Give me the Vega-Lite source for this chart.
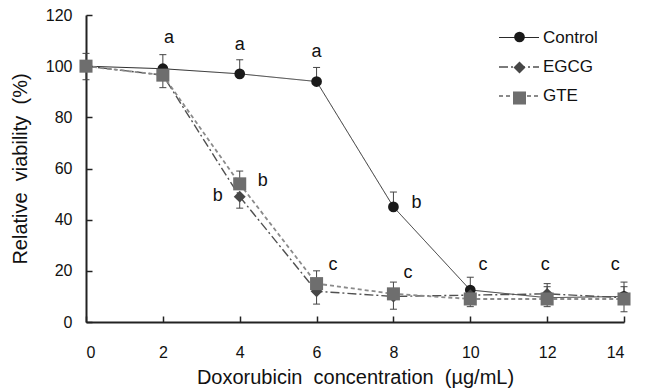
{
  "$schema": "https://vega.github.io/schema/vega-lite/v6.json",
  "width": 538,
  "height": 307,
  "autosize": {"type": "none"},
  "padding": {"left": 86, "top": 15, "right": 26, "bottom": 67},
  "background": "white",
  "config": {
    "view": {"stroke": null},
    "font": "Liberation Sans",
    "axis": {
      "grid": false,
      "domainColor": "#222222",
      "domainWidth": 2,
      "tickColor": "#222222",
      "tickWidth": 1.5,
      "tickSize": -6,
      "labelFont": "Liberation Sans",
      "labelFontSize": 16,
      "labelColor": "#111111",
      "titleFont": "Liberation Sans",
      "titleFontSize": 20,
      "titleFontWeight": "normal",
      "titleColor": "#111111"
    }
  },
  "datasets": {
    "points": [
      {"series": "Control", "x": 0, "y": 100, "lo": 94.7, "hi": 105},
      {"series": "Control", "x": 2, "y": 99, "lo": 99, "hi": 104.5},
      {"series": "Control", "x": 4, "y": 97, "lo": 97, "hi": 102.5},
      {"series": "Control", "x": 6, "y": 94, "lo": 94, "hi": 99.5},
      {"series": "Control", "x": 8, "y": 45, "lo": 45, "hi": 50.8},
      {"series": "Control", "x": 10, "y": 12.5, "lo": 12.5, "hi": 17.5},
      {"series": "Control", "x": 12, "y": 9.5, "lo": 9.5, "hi": 15},
      {"series": "Control", "x": 14, "y": 10, "lo": 10, "hi": 15.6},
      {"series": "EGCG", "x": 0, "y": 100, "lo": 100, "hi": 100},
      {"series": "EGCG", "x": 2, "y": 96.5, "lo": 96.5, "hi": 96.5},
      {"series": "EGCG", "x": 4, "y": 49, "lo": 44.5, "hi": 49},
      {"series": "EGCG", "x": 6, "y": 12, "lo": 7, "hi": 12},
      {"series": "EGCG", "x": 8, "y": 10, "lo": 10, "hi": 10},
      {"series": "EGCG", "x": 10, "y": 10.5, "lo": 10.5, "hi": 10.5},
      {"series": "EGCG", "x": 12, "y": 11, "lo": 11, "hi": 13.8},
      {"series": "EGCG", "x": 14, "y": 9.5, "lo": 9.5, "hi": 13.8},
      {"series": "GTE", "x": 0, "y": 100, "lo": 100, "hi": 100},
      {"series": "GTE", "x": 2, "y": 96.5, "lo": 91.6, "hi": 96.5},
      {"series": "GTE", "x": 4, "y": 54, "lo": 54, "hi": 59},
      {"series": "GTE", "x": 6, "y": 15, "lo": 15, "hi": 20},
      {"series": "GTE", "x": 8, "y": 11, "lo": 5, "hi": 15.6},
      {"series": "GTE", "x": 10, "y": 9, "lo": 6, "hi": 9},
      {"series": "GTE", "x": 12, "y": 9, "lo": 6, "hi": 9},
      {"series": "GTE", "x": 14, "y": 9, "lo": 4, "hi": 9}
    ],
    "letters": [
      {"x": 2.16, "y": 111, "t": "a"},
      {"x": 4.0, "y": 108.4, "t": "a"},
      {"x": 6.0, "y": 105.6, "t": "a"},
      {"x": 3.43, "y": 49.2, "t": "b"},
      {"x": 4.6, "y": 55, "t": "b"},
      {"x": 8.6, "y": 46.4, "t": "b"},
      {"x": 6.43, "y": 22.2, "t": "c"},
      {"x": 8.38, "y": 19.1, "t": "c"},
      {"x": 10.33, "y": 22.2, "t": "c"},
      {"x": 11.95, "y": 22.2, "t": "c"},
      {"x": 13.77, "y": 22.2, "t": "c"}
    ]
  },
  "layer": [
    {
      "data": {"name": "points"},
      "mark": {"type": "line"},
      "encoding": {
        "x": {
          "field": "x", "type": "quantitative",
          "scale": {"domain": [0, 14], "nice": false, "zero": false},
          "axis": {
            "values": [0, 2, 4, 6, 8, 10, 12, 14],
            "labelPadding": 28,
            "title": "Doxorubicin\u00a0 concentration\u00a0 (µg/mL)",
            "titlePadding": 7
          }
        },
        "y": {
          "field": "y", "type": "quantitative",
          "scale": {"domain": [0, 120], "nice": false},
          "axis": {
            "values": [0, 20, 40, 60, 80, 100, 120],
            "labelPadding": 20,
            "title": "Relative\u00a0 viability\u00a0 (%)",
            "titlePadding": 15
          }
        },
        "color": {
          "field": "series", "type": "nominal",
          "scale": {"domain": ["Control", "EGCG", "GTE"], "range": ["#2a2a2a", "#505050", "#8a8a8a"]},
          "legend": {
            "title": null,
            "orient": "none",
            "legendX": 412,
            "legendY": 2,
            "padding": 0,
            "symbolType": "stroke",
            "symbolSize": 1600,
            "symbolStrokeWidth": 1.3,
            "labelOffset": 3,
            "rowPadding": -10.5,
            "labelFont": "Liberation Sans",
            "labelFontSize": 17,
            "labelColor": "#111111"
          }
        },
        "strokeDash": {
          "field": "series", "type": "nominal",
          "scale": {"domain": ["Control", "EGCG", "GTE"], "range": [[1, 0], [9, 3, 2, 3], [4, 3]]},
          "legend": {
            "title": null,
            "orient": "none",
            "legendX": 412,
            "legendY": 2,
            "padding": 0,
            "symbolType": "stroke",
            "symbolSize": 1600,
            "symbolStrokeWidth": 1.3,
            "labelOffset": 3,
            "rowPadding": -10.5,
            "labelFont": "Liberation Sans",
            "labelFontSize": 17,
            "labelColor": "#111111"
          }
        },
        "strokeWidth": {
          "field": "series", "type": "nominal",
          "scale": {"domain": ["Control", "EGCG", "GTE"], "range": [1, 1.8, 1.2]},
          "legend": null
        },
        "order": {"field": "x", "type": "quantitative"}
      }
    },
    {
      "data": {"name": "points"},
      "mark": {"type": "rule", "color": "#444444", "strokeWidth": 1},
      "encoding": {
        "x": {"field": "x", "type": "quantitative"},
        "y": {"field": "lo", "type": "quantitative"},
        "y2": {"field": "hi"}
      }
    },
    {
      "data": {"name": "points"},
      "mark": {"type": "tick", "orient": "horizontal", "size": 7, "thickness": 1, "color": "#444444", "opacity": 1},
      "encoding": {
        "x": {"field": "x", "type": "quantitative"},
        "y": {"field": "hi", "type": "quantitative"}
      }
    },
    {
      "data": {"name": "points"},
      "mark": {"type": "tick", "orient": "horizontal", "size": 7, "thickness": 1, "color": "#444444", "opacity": 1},
      "encoding": {
        "x": {"field": "x", "type": "quantitative"},
        "y": {"field": "lo", "type": "quantitative"}
      }
    },
    {
      "data": {"name": "points"},
      "transform": [{"filter": "datum.x >= 0"}],
      "mark": {"type": "point", "filled": true, "opacity": 1, "strokeWidth": 0},
      "encoding": {
        "x": {"field": "x", "type": "quantitative"},
        "y": {"field": "y", "type": "quantitative"},
        "shape": {
          "field": "series", "type": "nominal",
          "scale": {"range": ["circle", "diamond", "square"]},
          "legend": {
            "title": null,
            "orient": "none",
            "legendX": 425,
            "legendY": 13.5,
            "padding": 0,
            "symbolStrokeWidth": 0,
            "symbolOpacity": 1,
            "labelOffset": 3,
            "rowPadding": 12.5,
            "labelFont": "Liberation Sans",
            "labelFontSize": 17,
            "labelOpacity": 0,
            "labelExpr": "''"
          }
        },
        "fill": {
          "field": "series", "type": "nominal",
          "scale": {"range": ["#1a1a1a", "#474747", "#6e6e6e"]},
          "legend": {
            "title": null,
            "orient": "none",
            "legendX": 425,
            "legendY": 13.5,
            "padding": 0,
            "symbolStrokeWidth": 0,
            "symbolOpacity": 1,
            "labelOffset": 3,
            "rowPadding": 12.5,
            "labelFont": "Liberation Sans",
            "labelFontSize": 17,
            "labelOpacity": 0,
            "labelExpr": "''"
          }
        },
        "size": {
          "field": "series", "type": "nominal",
          "scale": {"range": [115, 170, 130]},
          "legend": {
            "title": null,
            "orient": "none",
            "legendX": 425,
            "legendY": 13.5,
            "padding": 0,
            "symbolStrokeWidth": 0,
            "symbolOpacity": 1,
            "labelOffset": 3,
            "rowPadding": 12.5,
            "labelFont": "Liberation Sans",
            "labelFontSize": 17,
            "labelOpacity": 0,
            "labelExpr": "''"
          }
        },
        "order": {"field": "series", "type": "nominal"}
      }
    },
    {
      "data": {"name": "letters"},
      "mark": {"type": "text", "font": "Liberation Sans", "fontSize": 18, "color": "#111111", "align": "center", "baseline": "middle"},
      "encoding": {
        "x": {"field": "x", "type": "quantitative"},
        "y": {"field": "y", "type": "quantitative"},
        "text": {"field": "t"}
      }
    }
  ]
}
